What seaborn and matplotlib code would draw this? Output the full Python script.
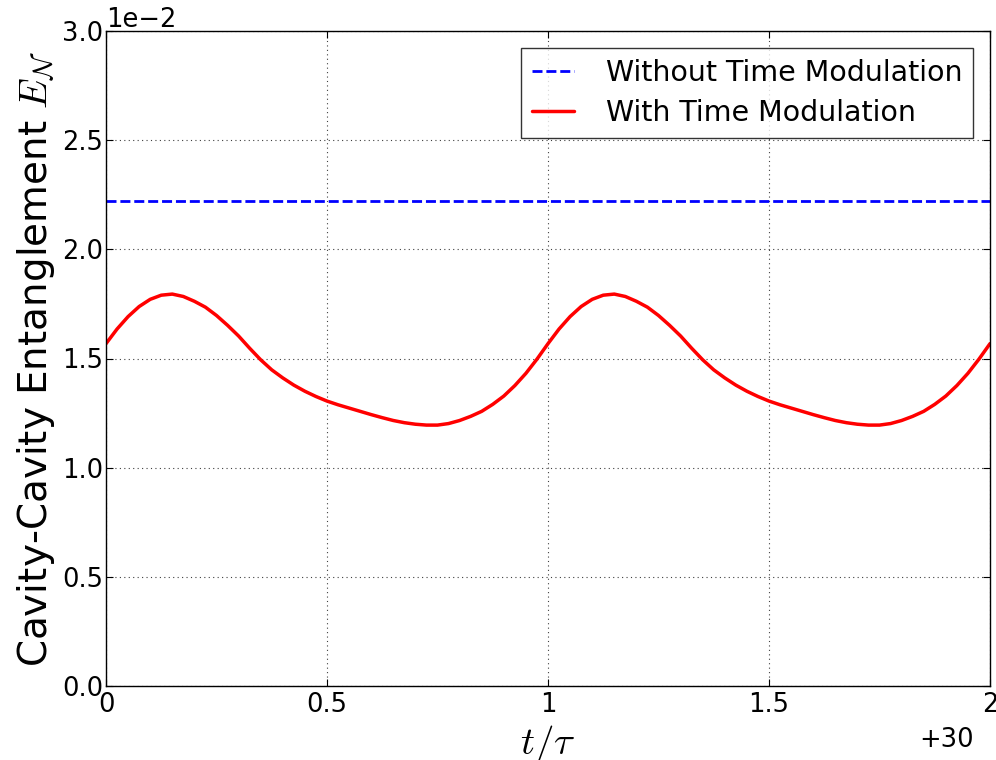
import numpy as np
import pandas as pd
import matplotlib
matplotlib.use("Agg")
import matplotlib.pyplot as plt
import seaborn as sns

# ---- data ----
t_vals = [30.000, 30.025, 30.050, 30.075, 30.100, 30.125, 30.150, 30.175, 30.200, 30.225,
          30.250, 30.275, 30.300, 30.325, 30.350, 30.375, 30.400, 30.425, 30.450, 30.475,
          30.500, 30.525, 30.550, 30.575, 30.600, 30.625, 30.650, 30.675, 30.700, 30.725,
          30.750, 30.775, 30.800, 30.825, 30.850, 30.875, 30.900, 30.925, 30.950, 30.975,
          31.000, 31.025, 31.050, 31.075, 31.100, 31.125, 31.150, 31.175, 31.200, 31.225,
          31.250, 31.275, 31.300, 31.325, 31.350, 31.375, 31.400, 31.425, 31.450, 31.475,
          31.500, 31.525, 31.550, 31.575, 31.600, 31.625, 31.650, 31.675, 31.700, 31.725,
          31.750, 31.775, 31.800, 31.825, 31.850, 31.875, 31.900, 31.925, 31.950, 31.975,
          32.000]
with_mod = [0.01568, 0.01635, 0.01692, 0.01738, 0.01771, 0.01790, 0.01795, 0.01784, 0.01762, 0.01735,
            0.01697, 0.01652, 0.01603, 0.01547, 0.01494, 0.01448, 0.01411, 0.01378, 0.01350, 0.01326,
            0.01305, 0.01288, 0.01273, 0.01258, 0.01243, 0.01229, 0.01216, 0.01206, 0.01199, 0.01195,
            0.01195, 0.01202, 0.01216, 0.01235, 0.01258, 0.01290, 0.01328, 0.01376, 0.01432, 0.01497,
            0.01568, 0.01635, 0.01692, 0.01738, 0.01771, 0.01790, 0.01795, 0.01784, 0.01762, 0.01735,
            0.01697, 0.01652, 0.01603, 0.01547, 0.01494, 0.01448, 0.01411, 0.01378, 0.01350, 0.01326,
            0.01305, 0.01288, 0.01273, 0.01258, 0.01243, 0.01229, 0.01216, 0.01206, 0.01199, 0.01195,
            0.01195, 0.01202, 0.01216, 0.01235, 0.01258, 0.01290, 0.01328, 0.01376, 0.01432, 0.01497,
            0.01568]
without_t = [30.0, 32.0]
without_mod = [0.0222, 0.0222]
x_ticks = [30.0, 30.5, 31.0, 31.5, 32.0]
x_tick_labels = ["0", "0.5", "1", "1.5", "2"]
y_ticks = [0.0, 0.005, 0.010, 0.015, 0.020, 0.025, 0.030]
label_without = "Without Time Modulation"
label_with = "With Time Modulation"

sns.set_style("white")
plt.rcParams["mathtext.fontset"] = "cm"
plt.rcParams["font.family"] = ["DejaVu Sans"]
plt.rcParams["text.color"] = "black"
plt.rcParams["axes.labelcolor"] = "black"
plt.rcParams["xtick.color"] = "black"
plt.rcParams["ytick.color"] = "black"
plt.rcParams["lines.solid_joinstyle"] = "round"

fig = plt.figure(figsize=(9.96, 7.6), dpi=100)
fig.patch.set_facecolor("white")
ax = fig.add_axes([106/996, 1-686/760, (990-106)/996, (686-31)/760])

df_w = pd.DataFrame({"t": without_t, "E": without_mod})
df_m = pd.DataFrame({"t": t_vals, "E": with_mod})
sns.lineplot(data=df_w, x="t", y="E", ax=ax, color="blue", linestyle="--",
             linewidth=2.0, label=label_without)
ax.lines[-1].set_dashes([3.6, 1.4])
sns.lineplot(data=df_m, x="t", y="E", ax=ax, color="red", linewidth=2.5,
             label=label_with)

ax.set_xlim(30, 32)
ax.set_ylim(0, 0.03)
ax.set_xticks(x_ticks)
ax.set_xticklabels(x_tick_labels)
ax.set_yticks(y_ticks)
ax.ticklabel_format(axis="y", style="sci", scilimits=(0, 0))
ax.yaxis.get_offset_text().set_fontsize(18.5)
ax.yaxis.get_offset_text().set_color("black")
ax.tick_params(labelsize=18.5, direction="in", length=5, width=0.8, pad=4,
               top=True, right=True, bottom=True, left=True, colors="black")
ax.tick_params(axis="y", pad=2)
ax.grid(True, color="0.25", linestyle=(0, (1, 3)), linewidth=0.8)
for s in ax.spines.values():
    s.set_color("black")
    s.set_linewidth(1.0)

ax.set_xlabel(r"$t/\tau$", fontsize=28, labelpad=4, color="black")
ax.set_ylabel(r"Cavity-Cavity Entanglement $E_\mathcal{N}$", fontsize=28, labelpad=4,
              color="black")
ax.text(0.982, -0.062, "+30", transform=ax.transAxes, ha="right", va="top",
        fontsize=18.5, color="black")

leg = ax.legend(loc="upper right", fontsize=20.5, frameon=True, fancybox=False,
                handlelength=1.5, borderpad=0.38, labelspacing=0.42, handletextpad=1.1,
                borderaxespad=0.6)
leg.get_frame().set_edgecolor("black")
leg.get_frame().set_linewidth(1.0)
for txt in leg.get_texts():
    txt.set_color("black")

fig.savefig("out.png", dpi=100, facecolor="white")
